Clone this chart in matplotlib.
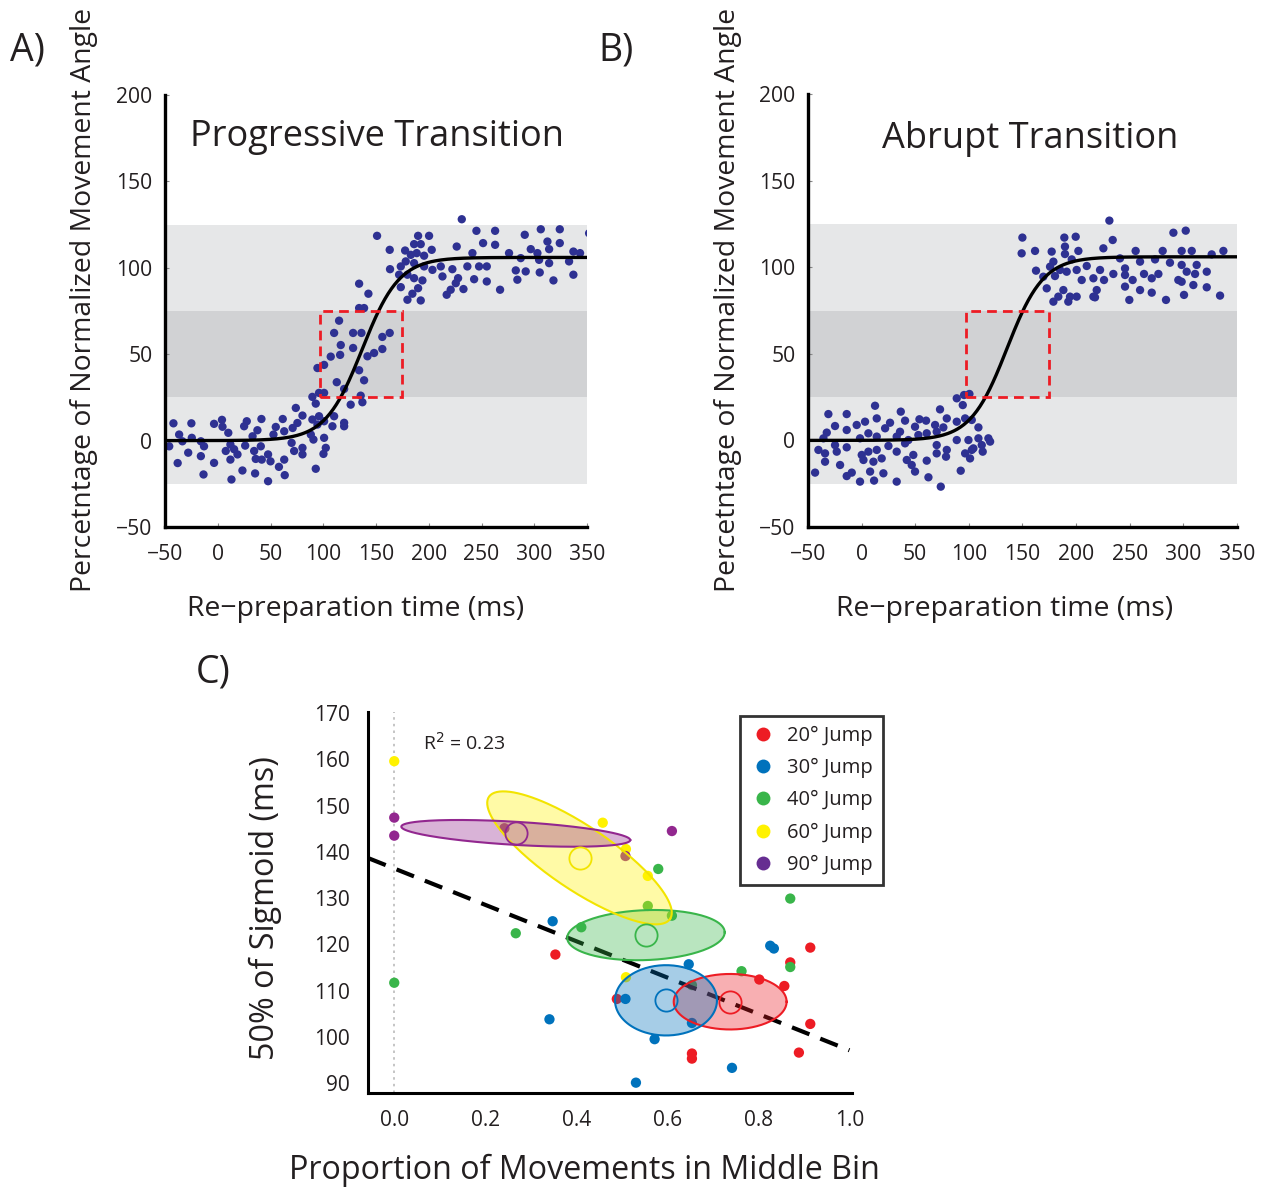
import numpy as np
import matplotlib
matplotlib.use("Agg")
import matplotlib.pyplot as plt
from matplotlib.patches import Rectangle
from matplotlib.lines import Line2D

plt.rcParams['font.family'] = ['Open Sans', 'DejaVu Sans']

# ---------------- Panel A data (re-preparation time, % normalized angle) ----------------
a_x = [-42, -25, -3.5, 4, 4.5, 10, -36.6, -33.5, -24.6, -16, -13, -46, -28, -16, -38, -13.5, -3.5,
       7.6, 12, 15.5, 12, 18.7, 13, 23.4, 25, 27.5, 26, 33, 34.5, 36, 35.4, 41.4, 37.6, 40.8, 41.7,
       47.7, 50, 47.7, 55, 52.8, 58, 63, 63.5, 61.6, 63, 71, 70, 75.5, 72.4, 94.5,
       134, 142.8, 134, 138.7, 115, 110.3, 128.3, 136.2, 156, 163, 116.6, 128.3, 116, 107.1, 100.8,
       94.5, 141.9, 148.2, 156, 134, 138.7, 112.8, 119.8, 100.8, 96, 89.7, 92.9, 126, 135.5, 137.1,
       74, 80.3, 96, 110.3, 89.7, 100.8, 119.8, 119.8, 108.7, 88.2, 100.8, 90.7, 102.4, 100.2, 80.3,
       80.3, 92.9, 151,
       231.3, 245.2, 262.9, 291, 306.2, 324.2, 352, 189.9, 200.3, 186.1, 192.4, 163, 177.6, 202.8,
       226.5, 251.5, 262.9, 312.5, 324.2, 183, 188.6, 195.6, 241.4, 276.1, 287.2, 296.7, 303, 304.6,
       314.1, 337.1, 343.4, 333, 178.2, 186.1, 163.3, 173.5, 195.6, 203.5, 211.4, 222.4, 236.6, 247.7,
       255, 282.5, 291.9, 305.2, 314.1, 171.9, 179.8, 186.1, 194, 213, 227.8, 243, 255, 284, 318.2,
       337.1, 173.5, 189.9, 225.6, 232.9, 220.8, 217, 267.6, 184.5, 179.8, 192.4]
a_y = [10, 10, 9.7, 12, 8, 4.5, 3.5, -0.4, 1.6, -0.4, -3.3, -3.3, -7, -9, -13, -19.6, -12.9,
       -6, -2.3, -5, -11, -8, -22.5, -17.3, 8.3, 11.2, -2.9, 2.5, -6, -10.6, -19, 12.5, 6, -3.3, -11,
       -8, -12, -23.5, 7.9, 3.5, -15.2, -11, -20, 12.5, 5.4, 7.3, -1.3, 10.2, -6, 9.3,
       90.8, 85, 76.7, 76.7, 69.4, 62.3, 62.3, 62.3, 60, 62.3, 55.3, 53.6, 49.6, 48.6, 43.8,
       42, 48.8, 50.7, 53, 40.7, 34.9, 33.8, 29.9, 27.6, 27.6, 25.3, 21.4, 20.8, 26, 22.2,
       18.9, 14.5, 14.1, 14.1, 12.2, 11.2, 10.3, 8.3, 8.3, 3.5, 1.6, 0.6, -4.2, -7.7, -4.2,
       -8, -16.3, 118.5,
       128.1, 121.4, 121.4, 119.1, 122.3, 122.3, 120, 118.5, 118.5, 113.7, 113.7, 110.4, 110, 110.4,
       112.3, 114.3, 113.3, 115.2, 114.3, 107.5, 108.5, 107, 108.5, 108.5, 105.6, 110.8, 108.5, 104.6,
       110.8, 109.4, 108.5, 103.7, 103.7, 102.7, 99.2, 100.8, 100.8, 98.8, 100.8, 99.2, 100.8, 100.8,
       100.8, 98.5, 97.9, 97.3, 102.7, 96, 96, 94, 92.7, 95, 94, 93.4, 92.1, 93.1, 92.7,
       96, 88.8, 88.2, 91.1, 87.7, 87.3, 84.4, 87.3, 85, 81.5, 81.1]

# ---------------- Panel B data ----------------
b_x = [12.5, -31, -13.9, 14.1, 36.5, 73.1, 79.4, 88.7, 95.5, 94.3, 100.5, -24.8, -4.6, 3.2, 26.5, 40.5,
       53.9, 60.1, 68.5, 88.7, 96.5, 102.7, -32.5, -13.9, 6.3, 21.9, 35.8, 49.8, 52.9, 60.7, 70, 76.2,
       108.9, -35.6, -1.5, 14.1, 32.7, 43.6, 88.7, 99.6, 108.9, 118.2, -24.8, -13.9, 25, 40.5, 70,
       79.4, 104.2, 112, 119.8, -40.3, -34.1, -23.2, 0.1, 6.3, 14.1, 32.7, 48.2, 70, 96.5, 102.7,
       112.9, -34.1, -20.1, 1.7, 11, 18.7, 42.1, 46.7, 60.7, 78.7, 101.1, -43.4, -13.9, -9.2, 7.9,
       20.3, 49.8, 62.3, 92.4, -1.5, 11.6, 32.7, 73.8,
       231, 290.7, 302.2, 149.9, 189, 199.6, 234.1, 149.2, 161.7, 177.2, 189.6, 189.6, 202.1, 225.4,
       240.9, 255.5, 259.6, 273.6, 280.7, 287.5, 298.4, 307.8, 298.4, 312.4, 326.4, 337.3, 178.8,
       195.9, 175.7, 185, 200.5, 209.9, 222.3, 234.7, 245.6, 245.6, 263.3, 276.7, 303.1, 310.9, 321.8,
       162.6, 169.4, 180.3, 191.2, 205.2, 216.1, 226, 252.7, 270.5, 295.3, 298.4, 309.3, 172.6,
       188.1, 219.2, 245.6, 259.6, 270.5, 321.8, 183.4, 194.3, 200.5, 216.1, 178.8, 192.7, 217.6,
       249.6, 283.8, 300.6, 334.2]
b_y = [20, 15.2, 15.2, 12.7, 16.6, 17.9, 12.7, 24.3, 26.2, 20.4, 26.8, 8.3, 8.9, 10.8, 10.2, 11.4,
       12.2, 11.4, 8.9, 10.8, 12.7, 11.8, 4.5, 6, 4.1, 7, 5, 7.9, 3.1, 4.1, 5, 7.5,
       7.5, 1.2, 1.2, 2.2, 2.2, 0.2, 0.2, 0.2, 1.2, 1.2, -2.7, -4, -3.2, -1.7, -2.7,
       -5.5, -4.6, -2.7, -0.7, -5.5, -7.5, -6.5, -8.4, -6.5, -5.5, -6.5, -8.4, -7.5, -7.5, -5.5,
       -6.5, -12.3, -14.2, -11.3, -12.3, -10.4, -11.3, -14.2, -11.7, -9.4, -10.4, -18.6, -20.6, -18.6, -18,
       -19, -18, -21.3, -17.5, -23.8, -23.2, -23.8, -26.7,
       126.9, 119.9, 121.1, 117.1, 117.1, 117.6, 115.7, 108, 109.4, 109, 111.9, 107.6, 109.4, 110.9,
       105.1, 109.4, 103.2, 104.5, 109.4, 102.6, 109.4, 109.4, 101.3, 101.3, 107.4, 109.4, 103.2,
       104.5, 100.3, 98.4, 98.4, 100.7, 98.4, 96.1, 99.3, 95.5, 96.1, 96.1, 97.4, 96.1, 97.4,
       98, 94.5, 94.9, 97.4, 92.6, 93.6, 92.6, 92.6, 93.6, 92.6, 91.6, 89.7, 87.8,
       86.8, 86.8, 88.8, 86.8, 85.3, 88.4, 83, 83, 83, 83, 80.1, 80.1, 82.6,
       81.1, 81.1, 84, 83.6]

# sigmoid fit parameters (upper asymptote, midpoint, slope) for A and B
sig_top = [106.0, 106.0]
sig_mid = [137.0, 135.5]
sig_k = [17.5, 17.0]
# percentage bands and middle-bin window
outer_band = (-25, 125)
middle_band = (25, 75)
middle_window = (97, 175)

# ---------------- Panel C data ----------------
jump_labels = ['20\u00b0 Jump', '30\u00b0 Jump', '40\u00b0 Jump', '60\u00b0 Jump', '90\u00b0 Jump']
jump_colors = ['#ed1c24', '#0072bc', '#39b54a', '#fff200', '#92278f']
legend_colors = ['#ed1c24', '#0072bc', '#39b54a', '#fff200', '#662d91']
edge_colors = ['#ed1c24', '#0072bc', '#39b54a', '#f2e400', '#92278f']

c_x = [
    [0.354, 0.489, 0.654, 0.654, 0.802, 0.857, 0.870, 0.914, 0.914, 0.889],
    [0.348, 0.341, 0.508, 0.647, 0.654, 0.572, 0.531, 0.742, 0.826, 0.834],
    [0.0, 0.267, 0.411, 0.557, 0.580, 0.610, 0.870, 0.870, 0.763, 0.654],
    [0.0, 0.458, 0.509, 0.557, 0.509],
    [0.0, 0.0, 0.242, 0.508, 0.610],
]
c_y = [
    [117.8, 108.2, 96.4, 95.3, 112.4, 111.0, 116.1, 119.3, 102.8, 96.6],
    [125.0, 103.8, 108.2, 115.7, 103.0, 99.5, 90.1, 93.3, 119.7, 119.1],
    [111.7, 122.4, 123.7, 128.3, 136.3, 126.2, 129.9, 115.1, 114.2, 111.2],
    [159.6, 146.3, 140.6, 134.8, 112.9],
    [147.4, 143.5, 145.1, 139.1, 144.5],
]
# group means and ellipse semi-axis vectors (x, y) in data units
ell_cx = [0.738, 0.597, 0.553, 0.407, 0.267]
ell_cy = [107.6, 107.9, 122.0, 138.7, 144.0]
ell_a = [(0.124, 0.0), (0.112, 0.0), (0.173, 0.6), (0.199, -13.2), (0.2515, -1.45)]
ell_b = [(0.0, 6.0), (0.0, 7.6), (0.0, 5.4), (-0.0388, -5.69), (0.0, 2.5)]

reg_intercept = 136.4
reg_slope = -39.3
r2_text = 'R$^2$ = 0.23'

# ---------------- figure ----------------
fig = plt.figure(figsize=(12.75, 11.92), dpi=100)

tick_fs = 15.2
label_fs = 20.4
title_fs = 26
text_color = '#231f20'

def sigmoid(x, top, mid, k):
    return top / (1.0 + np.exp(-(x - mid) / k))

def panel(rect, xs, ys, idx, title, title_xy):
    ax = fig.add_axes(rect)
    ax.set_xlim(-50, 350)
    ax.set_ylim(-50, 200)
    ax.axhspan(outer_band[0], outer_band[1], color='#e6e7e8', zorder=0, lw=0)
    ax.axhspan(middle_band[0], middle_band[1], color='#d1d2d4', zorder=0.5, lw=0)
    ax.scatter(xs, ys, s=36, color='#2e3192', edgecolors='none', zorder=2)
    xx = np.linspace(-50, 350, 400)
    ax.plot(xx, sigmoid(xx, sig_top[idx], sig_mid[idx], sig_k[idx]), color='black', lw=2.4, zorder=3)
    ax.add_patch(Rectangle((middle_window[0], middle_band[0]), middle_window[1] - middle_window[0],
                           middle_band[1] - middle_band[0], fill=False, edgecolor='#ed1c24',
                           lw=2.0, ls=(0, (3.5, 2.2)), zorder=4))
    ax.set_xticks([-50, 0, 50, 100, 150, 200, 250, 300, 350])
    ax.set_yticks([-50, 0, 50, 100, 150, 200])
    ax.tick_params(direction='in', length=3, width=0.8, color='#888888', labelsize=tick_fs, pad=9,
                   labelcolor=text_color)
    ax.tick_params(axis='x', pad=12)
    for s in ['top', 'right']:
        ax.spines[s].set_visible(False)
    for s in ['left', 'bottom']:
        ax.spines[s].set_linewidth(2.4)
    ax.text(title_xy[0], title_xy[1], title, transform=ax.transAxes, ha='center', va='center',
            fontsize=title_fs, color=text_color)
    return ax

W, H = 1275.0, 1192.0
axA = panel([165 / W, 1 - 527 / H, 422 / W, 432 / H], a_x, a_y, 0, 'Progressive Transition', (0.502, 0.903))
axB = panel([808 / W, 1 - 527 / H, 429 / W, 433 / H], b_x, b_y, 1, 'Abrupt Transition', (0.517, 0.895))

fig.text(27 / W, 1 - 50 / H, 'A)', fontsize=27, ha='center', va='center', color=text_color)
fig.text(616 / W, 1 - 50 / H, 'B)', fontsize=27, ha='center', va='center', color=text_color)
fig.text(213 / W, 1 - 673 / H, 'C)', fontsize=27, ha='center', va='center', color=text_color)

ylab = 'Percetntage of Normalized Movement Angle'
xlab = 'Re\u2212preparation time (ms)'
fig.text(84 / W, 1 - 300 / H, ylab, rotation=90, fontsize=label_fs, ha='center', va='center', color=text_color)
fig.text(728 / W, 1 - 300 / H, ylab, rotation=90, fontsize=label_fs, ha='center', va='center', color=text_color)
fig.text(356 / W, 1 - 609 / H, xlab, fontsize=label_fs, ha='center', va='center', color=text_color)
fig.text(1005 / W, 1 - 609 / H, xlab, fontsize=label_fs, ha='center', va='center', color=text_color)

# ---------------- Panel C ----------------
axC = fig.add_axes([368.3 / W, 1 - 1093.3 / H, 483.4 / W, 381.6 / H])
axC.set_xlim(-0.057, 1.005)
axC.set_ylim(87.8, 170.3)
axC.axvline(0.0, color='#bbbbbb', lw=1.2, ls=(0, (1.5, 2.5)), zorder=0.5)
for i in range(5):
    axC.scatter(c_x[i], c_y[i], s=55, color=jump_colors[i], edgecolors='none', zorder=2)
xr = np.array([-0.057, 1.0])
axC.plot(xr, reg_intercept + reg_slope * xr, color='black', lw=3, ls=(0, (4.5, 2.8)), zorder=2.5)
t = np.linspace(0, 2 * np.pi, 200)
for i in range(5):
    ex = ell_cx[i] + np.cos(t) * ell_a[i][0] + np.sin(t) * ell_b[i][0]
    ey = ell_cy[i] + np.cos(t) * ell_a[i][1] + np.sin(t) * ell_b[i][1]
    axC.fill(ex, ey, facecolor=jump_colors[i], alpha=0.35, edgecolor='none', zorder=3)
    axC.plot(ex, ey, color=edge_colors[i], lw=1.5, zorder=3.2)
    axC.plot([ell_cx[i]], [ell_cy[i]], marker='o', ms=16, mfc='none', mec=edge_colors[i], mew=1.3, zorder=3.5)
axC.set_xticks([0.0, 0.2, 0.4, 0.6, 0.8, 1.0])
axC.set_xticklabels(['0.0', '0.2', '0.4', '0.6', '0.8', '1.0'])
axC.set_yticks(np.arange(90, 171, 10))
axC.tick_params(length=0, labelsize=15, pad=13, labelcolor=text_color)
axC.tick_params(axis='x', pad=12)
for s in ['top', 'right']:
    axC.spines[s].set_visible(False)
for s in ['left', 'bottom']:
    axC.spines[s].set_linewidth(2.2)
axC.text(0.064, 163.5, r2_text, fontsize=14, ha='left', va='center', color=text_color)

handles = [Line2D([], [], marker='o', ls='none', ms=10, mfc=c, mec='none') for c in legend_colors]
leg = axC.legend(handles, jump_labels, loc='upper left', bbox_to_anchor=(0.769, 0.989),
                 borderaxespad=0, fontsize=14.5, frameon=True, fancybox=False, handletextpad=0.55,
                 labelspacing=0.6, borderpad=0.5, handlelength=1.3)
leg.get_frame().set_edgecolor('black')
leg.get_frame().set_linewidth(2)
leg.set_zorder(5)
for txt in leg.get_texts():
    txt.set_color(text_color)

fig.text(265 / W, 1 - 908 / H, '50% of Sigmoid (ms)', rotation=90, fontsize=23.2, ha='center', va='center', color=text_color)
fig.text(584 / W, 1 - 1170 / H, 'Proportion of Movements in Middle Bin', fontsize=23.2, ha='center', va='center', color=text_color)

fig.savefig('out.png', dpi=100)
